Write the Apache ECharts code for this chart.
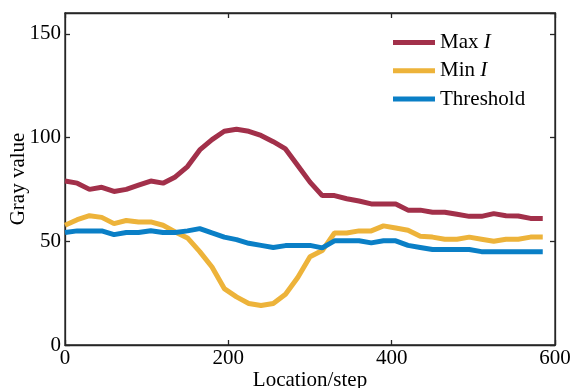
<!DOCTYPE html>
<html>
<head>
<meta charset="utf-8">
<script src="https://cdn.jsdelivr.net/npm/echarts@6/dist/echarts.min.js"></script>
<style>html,body{margin:0;padding:0;background:#fff}#c{width:573px;height:388px}</style>
</head>
<body>
<div id="c"></div>
<script>
const locations = [0,15,30,45,60,75,90,105,120,135,150,165,180,195,210,225,240,255,270,285,300,315,330,345,360,375,390,405,420,435,450,465,480,495,510,525,540,555,570,585];
const maxI = [79,78,75,76,74,75,77,79,78,81,86,94,99,103,104,103,101,98,94.5,86.5,78.5,72,72,70.5,69.4,68,68,68,65,65,64,64,63,62,62,63.3,62.3,62.2,61,61];
const minI = [57.7,60.4,62.3,61.5,58.5,60,59.3,59.3,57.7,54.5,51.6,45,37.6,27.2,23.2,20,19,20,24.5,32.5,42.5,45.5,54,54,55,55,57.4,56.4,55.3,52.4,52,51,51,52,51,50,51,51,52,52];
const threshold = [54.2,55,55,55,53.2,54.2,54.2,55.1,54.2,54.2,55,56.1,54,52,50.8,49,48,47,47.9,47.9,48,46.8,50.2,50.2,50.2,49.2,50.2,50.2,48,47,46,46,46,46,45,45,45,45,45,45];
const xTicks = [0, 600, 200];
const yTicks = [0, 160, 50];
const seriesNames = ['Max I', 'Min I', 'Threshold'];
const colors = ['#A2304A', '#EDB33A', '#0A7FC6'];

const font = 'Liberation Serif';
const fs = 21;
const axisColor = '#262626';
function pairs(v){ return locations.map((x,i)=>[x, v[i]]); }
function base(){ return {
  axisLine:{show:true, onZero:false, lineStyle:{color:axisColor, width:1.3}},
  axisTick:{show:true, inside:true, length:5, lineStyle:{color:axisColor, width:1.3}},
  splitLine:{show:false}
}; }
const chart = echarts.init(document.getElementById('c'), null, {renderer:'canvas'});
const series = [maxI, minI, threshold].map((v,i)=>({
  type:'line', name:seriesNames[i], data:pairs(v), symbol:'none', showSymbol:false,
  color:colors[i], lineStyle:{width:5, color:colors[i]}, xAxisIndex:0, yAxisIndex:0
}));
series.push({type:'line', name:'_frame', data:[], xAxisIndex:1, yAxisIndex:1, symbol:'none', silent:true});
chart.setOption({
  animation:false,
  grid:{left:65, right:18, top:13, bottom:43, containLabel:false, outerBoundsMode:'none',
        show:true, borderColor:axisColor, borderWidth:1.3, backgroundColor:'transparent'},
  legend:{
    orient:'vertical', left:393, top:32, icon:'rect', itemWidth:42, itemHeight:5, itemGap:7.3, padding:0,
    data:seriesNames,
    formatter:function(n){ return n.replace(/ I$/, ' {it|I}'); },
    textStyle:{fontFamily:font, fontSize:fs, lineHeight:21, color:'#000',
      rich:{it:{fontFamily:font, fontSize:fs, lineHeight:21, fontStyle:'italic', color:'#000'}}}
  },
  xAxis:[
    Object.assign({type:'value', min:xTicks[0], max:xTicks[1], interval:xTicks[2], position:'bottom',
      name:'Location/step', nameLocation:'middle', nameGap:25, nameMoveOverlap:false,
      nameTextStyle:{fontFamily:font, fontSize:fs, color:'#000'},
      axisLabel:{fontFamily:font, fontSize:fs, color:'#000', margin:3}}, base()),
    Object.assign({type:'value', min:xTicks[0], max:xTicks[1], interval:xTicks[2], position:'top',
      axisLabel:{show:false}}, base())
  ],
  yAxis:[
    Object.assign({type:'value', min:yTicks[0], max:yTicks[1], interval:yTicks[2], position:'left',
      name:'Gray value', nameLocation:'middle', nameGap:36, nameMoveOverlap:false,
      nameTextStyle:{fontFamily:font, fontSize:fs, color:'#000'},
      axisLabel:{fontFamily:font, fontSize:fs, color:'#000', margin:4, showMaxLabel:false}}, base()),
    Object.assign({type:'value', min:yTicks[0], max:yTicks[1], interval:yTicks[2], position:'right',
      axisLabel:{show:false}}, base())
  ],
  series:series
});
</script>
</body>
</html>
